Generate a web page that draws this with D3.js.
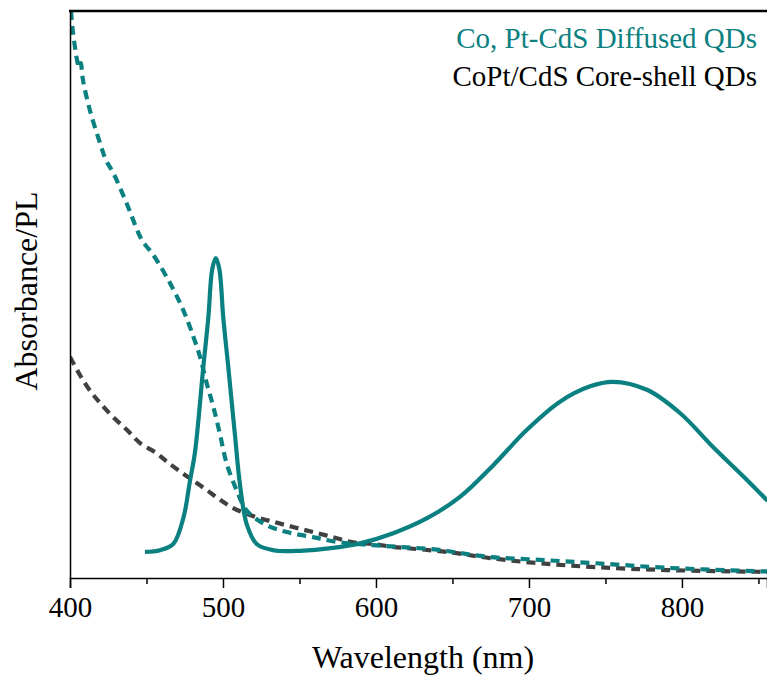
<!DOCTYPE html>
<html>
<head>
<meta charset="utf-8">
<script src="https://cdn.jsdelivr.net/npm/d3@7"></script>
<style>
  html, body { margin: 0; padding: 0; background: #fff; }
  svg text { font-family: "Liberation Serif", "Times New Roman", serif; }
</style>
</head>
<body>
<svg id="chart" width="767" height="683"></svg>
<script>
// ---- Data ----
const xTicks = [400, 500, 600, 700, 800];
const xMinorTicks = [450, 550, 650, 750, 850];
const seriesNames = ["Co, Pt-CdS Diffused QDs", "CoPt/CdS Core-shell QDs"];

// Diffused QDs absorbance (teal dashed)
const diffusedAbsX = [400.7, 402, 406, 407, 408.5, 413, 420, 423.5, 428, 437, 447, 454.4, 465.4, 474.1, 480.6, 485, 489.3, 493.7, 498, 502.4, 508.9, 515.5, 528.6, 541.8, 558.8, 576.5, 598, 620, 640, 655, 674.5, 707, 744, 790, 849, 856];
const diffusedAbsY = [100, 96.1, 90, 90.8, 87.8, 82.5, 76.4, 73.7, 71.6, 66.1, 59.6, 57.0, 52.0, 47.2, 42.6, 39.0, 34.4, 30.2, 25.4, 20.2, 15.5, 11.9, 9.3, 8.1, 7.2, 6.3, 5.8, 5.4, 5.0, 4.4, 3.7, 3.2, 2.6, 1.8, 1.2, 1.15];

// Core-shell QDs absorbance (dark grey dashed)
const coreShellAbsX = [400, 406.5, 413.7, 419.6, 428.1, 437.3, 445.8, 456.6, 463.4, 471.9, 480.4, 489.5, 498, 507, 520, 533, 545.8, 558.8, 571.9, 585, 598, 611, 646.4, 674.5, 707.2, 744.4, 790.2, 849, 856];
const coreShellAbsY = [39.0, 35.8, 32.8, 30.9, 28.4, 26.1, 23.8, 22.0, 20.5, 18.8, 17.2, 15.5, 13.8, 12.3, 10.9, 9.9, 9.0, 8.1, 7.2, 6.3, 6.0, 5.5, 4.6, 3.5, 2.6, 1.9, 1.4, 1.1, 1.05];

// Diffused QDs photoluminescence (teal solid)
const diffusedPLX = [449, 458.8, 467.5, 474.1, 478.4, 481.7, 487.1, 490.4, 493, 495.3, 497.6, 500.2, 503.5, 507.8, 511.1, 515.5, 522, 532.9, 550.3, 571.9, 589.5, 611.3, 633.1, 654.9, 676.7, 698.5, 720.3, 740, 754.9, 777.1, 798.7, 820.3, 842.5, 856];
const diffusedPLY = [4.6, 4.9, 6.0, 10.6, 17.1, 22.2, 37.1, 45.9, 54.5, 56.4, 54.5, 45.9, 37.1, 25.3, 16.5, 9.5, 6.0, 4.9, 4.8, 5.3, 6.1, 7.9, 10.5, 14.3, 19.9, 26.1, 31.1, 33.8, 34.6, 33.2, 29.1, 23.1, 17.3, 13.6];

// ---- Layout ----
const svg = d3.select("#chart");
const margin = { left: 70, right: 0, top: 11, bottom: 105 };
const W = 767, H = 683;
const x = d3.scaleLinear().domain([400, 855.6]).range([margin.left, W]);
const y = d3.scaleLinear().domain([0, 100]).range([578, 11]);

const teal = "#0b8080";
const grey = "#404040";
const serif = "'Liberation Serif', 'Times New Roman', serif";

svg.append("defs").append("clipPath").attr("id", "clip")
  .append("rect").attr("x", margin.left).attr("y", 11).attr("width", W - margin.left).attr("height", 578 - 11);

const line = d3.line().x(d => x(d[0])).y(d => y(d[1])).curve(d3.curveCatmullRom.alpha(0.5));
const zip = (a, b) => a.map((v, i) => [v, b[i]]);

const plot = svg.append("g").attr("clip-path", "url(#clip)");

plot.append("path").datum(zip(coreShellAbsX, coreShellAbsY))
  .attr("d", line).attr("fill", "none").attr("stroke", grey)
  .attr("stroke-width", 4.2).attr("stroke-dasharray", "9,6");

plot.append("path").datum(zip(diffusedAbsX, diffusedAbsY))
  .attr("d", line).attr("fill", "none").attr("stroke", teal)
  .attr("stroke-width", 4.2).attr("stroke-dasharray", "9,6");

plot.append("path").datum(zip(diffusedPLX, diffusedPLY))
  .attr("d", line).attr("fill", "none").attr("stroke", teal)
  .attr("stroke-width", 4.2);

// ---- Axes ----
const xAxis = d3.axisBottom(x).tickValues(xTicks).tickSize(10).tickPadding(8).tickFormat(d3.format("d"));
const gx = svg.append("g").attr("transform", "translate(0,578)").call(xAxis)
  .attr("font-family", serif);
gx.select(".domain").attr("stroke", "#000").attr("stroke-width", 1.5);
gx.selectAll(".tick line").attr("stroke", "#000").attr("stroke-width", 1.5);
gx.selectAll(".tick text").attr("font-size", 29).attr("fill", "#000")
  .attr("font-family", serif);

const gxm = svg.append("g").attr("transform", "translate(0,578)")
  .call(d3.axisBottom(x).tickValues(xMinorTicks).tickSize(6).tickFormat(""));
gxm.select(".domain").remove();
gxm.selectAll(".tick line").attr("stroke", "#000").attr("stroke-width", 1.5);

// Left axis (no ticks)
const gy = svg.append("g").attr("transform", `translate(${margin.left},0)`)
  .call(d3.axisLeft(y).tickValues([]).tickSizeOuter(0));
gy.select(".domain").attr("stroke", "#000").attr("stroke-width", 1.5);

// Top frame
svg.append("line").attr("x1", margin.left - 1).attr("x2", W).attr("y1", 11).attr("y2", 11)
  .attr("stroke", "#000").attr("stroke-width", 2.5);

// Axis labels
svg.append("text").attr("x", 423).attr("y", 668).attr("text-anchor", "middle")
  .attr("font-family", serif).attr("font-size", 32).attr("fill", "#000").text("Wavelength (nm)");
svg.append("text").attr("transform", "translate(37,291) rotate(-90)").attr("text-anchor", "middle")
  .attr("font-family", serif).attr("font-size", 32).attr("fill", "#000").text("Absorbance/PL");

// Legend
svg.append("text").attr("x", 757).attr("y", 48).attr("text-anchor", "end")
  .attr("font-family", serif).attr("font-size", 29).attr("fill", teal).text(seriesNames[0]);
svg.append("text").attr("x", 757).attr("y", 86).attr("text-anchor", "end")
  .attr("font-family", serif).attr("font-size", 29).attr("fill", "#000").text(seriesNames[1]);
</script>
</body>
</html>
